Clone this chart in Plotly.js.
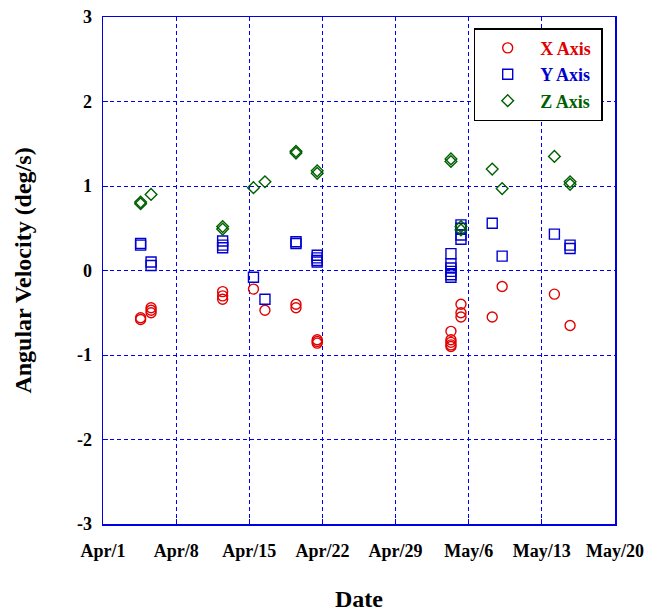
<!DOCTYPE html>
<html><head><meta charset="utf-8">
<script src="https://cdn.plot.ly/plotly-3.0.1.min.js"></script>
<style>body{margin:0;padding:0;background:#fff}#c{width:647px;height:613px}</style>
</head><body><div id="c"></div>
<script>
const xDates = ["2008-04-04 14:24","2008-04-04 14:24","2008-04-05 14:24","2008-04-05 14:24","2008-04-05 14:24",
  "2008-04-12 10:48","2008-04-12 10:48","2008-04-12 10:48","2008-04-15 09:36","2008-04-16 12:00",
  "2008-04-19 11:17","2008-04-19 11:17","2008-04-21 12:00","2008-04-21 12:00","2008-04-21 12:00",
  "2008-05-04 07:12","2008-05-04 07:12","2008-05-04 07:12","2008-05-04 07:12","2008-05-04 07:12",
  "2008-05-05 06:14","2008-05-05 06:14","2008-05-05 06:14","2008-05-08 06:00","2008-05-09 04:48",
  "2008-05-14 04:48","2008-05-15 16:48"];
const xAxisVals = [-0.56,-0.58,-0.44,-0.47,-0.50,
  -0.25,-0.30,-0.34,-0.22,-0.47,
  -0.40,-0.44,-0.82,-0.84,-0.86,
  -0.72,-0.82,-0.85,-0.88,-0.90,
  -0.40,-0.50,-0.55,-0.55,-0.19,
  -0.28,-0.65];
const yDates = ["2008-04-04 14:24","2008-04-04 14:24","2008-04-05 14:24","2008-04-05 14:24",
  "2008-04-12 10:48","2008-04-12 10:48","2008-04-12 10:48","2008-04-15 09:36","2008-04-16 12:00",
  "2008-04-19 11:17","2008-04-19 11:17","2008-04-21 12:00","2008-04-21 12:00","2008-04-21 12:00","2008-04-21 12:00",
  "2008-05-04 07:12","2008-05-04 07:12","2008-05-04 07:12","2008-05-04 07:12","2008-05-04 07:12","2008-05-04 07:12",
  "2008-05-05 06:14","2008-05-05 06:14","2008-05-05 06:14","2008-05-05 06:14",
  "2008-05-08 06:00","2008-05-09 04:48","2008-05-14 04:48","2008-05-15 16:48","2008-05-15 16:48"];
const yAxisVals = [0.30,0.32,0.06,0.10,
  0.35,0.30,0.27,-0.08,-0.34,
  0.32,0.34,0.18,0.15,0.12,0.10,
  0.20,0.08,0.03,-0.01,-0.05,-0.08,
  0.54,0.50,0.42,0.37,
  0.56,0.17,0.43,0.30,0.26];
const zDates = ["2008-04-04 14:24","2008-04-04 14:24","2008-04-05 14:24",
  "2008-04-12 10:48","2008-04-12 10:48","2008-04-15 09:36","2008-04-16 12:00",
  "2008-04-19 11:17","2008-04-19 11:17","2008-04-21 12:00","2008-04-21 12:00",
  "2008-05-04 07:12","2008-05-04 07:12","2008-05-05 06:14","2008-05-05 06:14",
  "2008-05-08 06:00","2008-05-09 04:48","2008-05-14 04:48","2008-05-15 16:48","2008-05-15 16:48"];
const zAxisVals = [0.79,0.81,0.90,
  0.49,0.52,0.98,1.05,
  1.39,1.41,1.15,1.18,
  1.29,1.32,0.48,0.52,
  1.20,0.97,1.35,1.02,1.05];
const tickDates = ["2008-04-01","2008-04-08","2008-04-15","2008-04-22","2008-04-29","2008-05-06","2008-05-13","2008-05-20"];
const tickLabels = ["Apr/1","Apr/8","Apr/15","Apr/22","Apr/29","May/6","May/13","May/20"];

const serif = "Liberation Serif, Times New Roman, serif";
const traces = [
  {x:xDates,y:xAxisVals,type:"scatter",mode:"markers",name:'<span style="color:#e00000"><b>X Axis</b></span>&nbsp;',
   marker:{symbol:"circle-open",size:10,color:"#e00000",line:{width:1.4}}},
  {x:yDates,y:yAxisVals,type:"scatter",mode:"markers",name:'<span style="color:#0000d0"><b>Y Axis</b></span>&nbsp;',
   marker:{symbol:"square-open",size:10,color:"#0000d0",line:{width:1.4}}},
  {x:zDates,y:zAxisVals,type:"scatter",mode:"markers",name:'<span style="color:#006000"><b>Z Axis</b></span>&nbsp;',
   marker:{symbol:"diamond-open",size:9,color:"#006000",line:{width:1.4}}}
];
const gridC = "#0000f0";
const layout = {
  width:647,height:613,
  margin:{l:103,r:32,t:17,b:89},
  paper_bgcolor:"#fff",plot_bgcolor:"#fff",
  font:{family:serif,color:"#000"},
  showlegend:true,
  legend:{x:0.724,y:0.978,xanchor:"left",yanchor:"top",bgcolor:"#fff",bordercolor:"#000",borderwidth:1.5,
    font:{family:serif,size:18},itemwidth:55,tracegroupgap:0},
  xaxis:{type:"date",range:["2008-04-01","2008-05-20"],tickvals:tickDates,ticktext:tickLabels,
    showgrid:true,gridcolor:gridC,griddash:"4px,3px",gridwidth:1,
    showline:true,linecolor:"#0000e0",linewidth:1.5,mirror:true,zeroline:false,
    ticks:"inside",ticklen:5,tickcolor:"#0000e0",ticklabelstandoff:10,
    tickfont:{family:serif,size:18,color:"#000",weight:"bold"},
    title:{text:"<b>Date</b>",font:{family:serif,size:24,color:"#000"},standoff:30}},
  yaxis:{range:[-3,3],tickvals:[-3,-2,-1,0,1,2,3],ticktext:["-3","-2","-1","0","1","2","3"],
    showgrid:true,gridcolor:gridC,griddash:"4px,3px",gridwidth:1,
    showline:true,linecolor:"#0000e0",linewidth:1.5,mirror:true,zeroline:false,
    ticks:"inside",ticklen:5,tickcolor:"#0000e0",ticklabelstandoff:6,
    tickfont:{family:serif,size:18,color:"#000",weight:"bold"},
    title:{text:"<b>Angular Velocity (deg/s)</b>",font:{family:serif,size:24,color:"#000"},standoff:38}}
};
Plotly.newPlot("c",traces,layout,{displayModeBar:false,staticPlot:true});
</script></body></html>
